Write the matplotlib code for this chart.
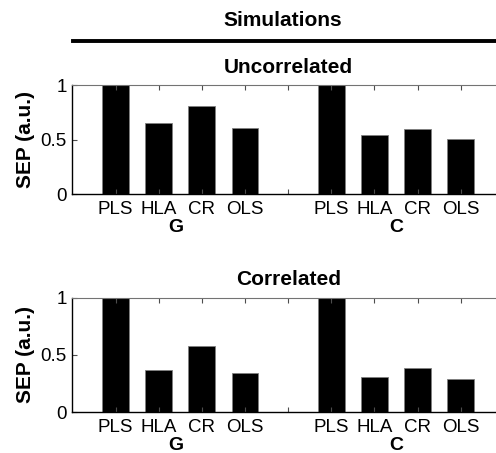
import numpy as np
import matplotlib.pyplot as plt

plt.rcParams['font.family'] = ['Liberation Sans', 'DejaVu Sans']

methods = ['PLS', 'HLA', 'CR', 'OLS']
groups = ['G', 'C']
uncorrelated_G = [1.0, 0.65, 0.805, 0.61]
uncorrelated_C = [1.0, 0.54, 0.595, 0.505]
correlated_G = [1.0, 0.37, 0.575, 0.345]
correlated_C = [1.0, 0.31, 0.385, 0.29]

panels = [
    ('Uncorrelated', uncorrelated_G, uncorrelated_C),
    ('Correlated', correlated_G, correlated_C),
]

fig = plt.figure(figsize=(4.96, 4.53), dpi=100)

# axes boxes in figure fraction (right edge runs off the figure like the original)
boxes = [[0.146, 0.571, 0.870, 0.241],
         [0.146, 0.090, 0.870, 0.253]]

pos_G = np.arange(1, 5)
pos_C = np.arange(6, 10)

for (title, vals_G, vals_C), box in zip(panels, boxes):
    ax = fig.add_axes(box)
    ax.bar(pos_G, vals_G, width=0.62, color='black', edgecolor='0.5', linewidth=0.6)
    ax.bar(pos_C, vals_C, width=0.62, color='black', edgecolor='0.5', linewidth=0.6)
    ax.set_xlim(0, 10)
    ax.set_ylim(0, 1)
    ax.set_xticks(np.arange(1, 10))
    ax.set_xticklabels(methods + [''] + methods)
    ax.set_yticks([0, 0.5, 1])
    ax.set_yticklabels(['0', '0.5', '1'])
    ax.tick_params(direction='in', length=3.5, width=0.8, color='0.3',
                   labelsize=13.5, pad=4, top=True)
    ax.tick_params(axis='x', pad=5)
    ax.spines['left'].set_linewidth(1.0)
    ax.spines['bottom'].set_linewidth(1.0)
    ax.spines['top'].set_color('0.45')
    ax.spines['right'].set_visible(False)
    ax.set_ylabel('SEP (a.u.)', fontsize=15, fontweight='bold', labelpad=4)
    ax.set_title(title, fontsize=15, fontweight='bold', pad=9)
    for g, xc in zip(groups, [2.4, 7.5]):
        ax.annotate(g, xy=(xc, 0), xycoords=('data', 'axes fraction'),
                    xytext=(0, -18), textcoords='offset points',
                    ha='center', va='top', fontsize=14, fontweight='bold')

fig.text(0.571, 0.955, 'Simulations', ha='center', va='center',
         fontsize=15, fontweight='bold')
fig.add_artist(plt.Line2D([0.147, 1.0], [0.9095, 0.9095], color='black',
                          linewidth=2.8, transform=fig.transFigure))

fig.savefig('out.png', dpi=100)
